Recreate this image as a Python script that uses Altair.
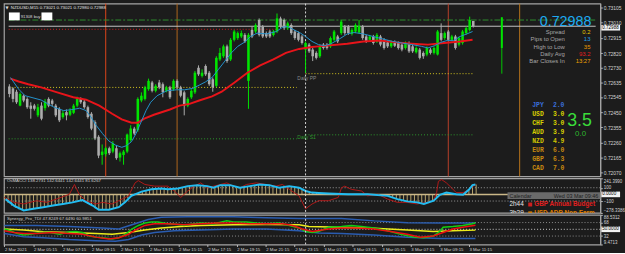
import altair as alt
import pandas as pd

# ---------------- data ----------------
bars = list(range(131))
open_ = [0.72611, 0.72599, 0.72578, 0.72491, 0.72553, 0.72533, 0.72491, 0.72491, 0.72430, 0.72491,
         0.72475, 0.72533, 0.72523, 0.72491, 0.72471, 0.72419, 0.72450, 0.72434, 0.72446, 0.72491,
         0.72533, 0.72516, 0.72481, 0.72440, 0.72388, 0.72296, 0.72182, 0.72187, 0.72224, 0.72203,
         0.72224, 0.72166, 0.72182, 0.72203, 0.72275, 0.72347, 0.72337, 0.72523, 0.72533, 0.72594,
         0.72636, 0.72584, 0.72636, 0.72625, 0.72584, 0.72605, 0.72594, 0.72646, 0.72605, 0.72574,
         0.72491, 0.72543, 0.72574, 0.72728, 0.72677, 0.72739, 0.72697, 0.72656, 0.72615, 0.72780,
         0.72800, 0.72862, 0.72780, 0.72903, 0.72914, 0.72924, 0.72934, 0.72646, 0.72965, 0.72955,
         0.73027, 0.72986, 0.72945, 0.72955, 0.72934, 0.72955, 0.73037, 0.73027, 0.72976, 0.72996,
         0.72955, 0.72945, 0.72924, 0.72842, 0.72873, 0.72842, 0.72821, 0.72800, 0.72873, 0.72873,
         0.72862, 0.72903, 0.72924, 0.72945, 0.72986, 0.72986, 0.72940, 0.72955, 0.72949, 0.72986,
         0.72924, 0.72903, 0.72924, 0.72893, 0.72924, 0.72903, 0.72887, 0.72862, 0.72887, 0.72883,
         0.72873, 0.72852, 0.72883, 0.72862, 0.72825, 0.72842, 0.72821, 0.72811, 0.72842, 0.72821,
         0.72811, 0.72945, 0.72914, 0.72955, 0.72903, 0.72924, 0.72873, 0.72883, 0.72945, 0.72965,
         0.73021]
high_ = [0.72625, 0.72605, 0.72590, 0.72574, 0.72561, 0.72543, 0.72512, 0.72502, 0.72502, 0.72512,
         0.72533, 0.72543, 0.72533, 0.72502, 0.72481, 0.72460, 0.72467, 0.72475, 0.72502, 0.72547,
         0.72543, 0.72528, 0.72491, 0.72450, 0.72399, 0.72306, 0.72248, 0.72234, 0.72234, 0.72269,
         0.72244, 0.72203, 0.72213, 0.72316, 0.72368, 0.72358, 0.72543, 0.72574, 0.72615, 0.72660,
         0.72646, 0.72625, 0.72652, 0.72636, 0.72615, 0.72615, 0.72656, 0.72656, 0.72615, 0.72584,
         0.72543, 0.72594, 0.72708, 0.72743, 0.72718, 0.72749, 0.72708, 0.72667, 0.72800, 0.72852,
         0.72873, 0.72873, 0.72914, 0.72965, 0.72955, 0.72961, 0.72945, 0.72945, 0.72986, 0.73006,
         0.73037, 0.72996, 0.72955, 0.72965, 0.72965, 0.73068, 0.73048, 0.73037, 0.73017, 0.73006,
         0.72965, 0.72955, 0.72934, 0.72893, 0.72883, 0.72852, 0.72831, 0.72873, 0.72883, 0.72883,
         0.72924, 0.72965, 0.72934, 0.73027, 0.72996, 0.72996, 0.72976, 0.73006, 0.73027, 0.72996,
         0.72934, 0.72934, 0.72934, 0.72945, 0.72934, 0.72914, 0.72899, 0.72899, 0.72899, 0.72893,
         0.72883, 0.72893, 0.72893, 0.72873, 0.72862, 0.72852, 0.72831, 0.72862, 0.72852, 0.72862,
         0.72965, 0.73006, 0.72955, 0.72965, 0.72934, 0.72934, 0.72924, 0.72965, 0.72986, 0.73048,
         0.73021]
low_ = [0.72543, 0.72512, 0.72502, 0.72487, 0.72512, 0.72471, 0.72409, 0.72460, 0.72419, 0.72399,
        0.72460, 0.72481, 0.72487, 0.72419, 0.72388, 0.72409, 0.72399, 0.72425, 0.72438, 0.72481,
        0.72502, 0.72471, 0.72409, 0.72337, 0.72275, 0.72162, 0.72121, 0.72172, 0.72182, 0.72193,
        0.72152, 0.72141, 0.72121, 0.72193, 0.72265, 0.72306, 0.72327, 0.72512, 0.72523, 0.72584,
        0.72574, 0.72574, 0.72594, 0.72543, 0.72574, 0.72533, 0.72584, 0.72594, 0.72543, 0.72430,
        0.72481, 0.72533, 0.72564, 0.72677, 0.72667, 0.72677, 0.72615, 0.72578, 0.72605, 0.72770,
        0.72790, 0.72759, 0.72770, 0.72893, 0.72903, 0.72914, 0.72883, 0.72471, 0.72914, 0.72945,
        0.72924, 0.72914, 0.72914, 0.72914, 0.72924, 0.72945, 0.72976, 0.72965, 0.72965, 0.72934,
        0.72903, 0.72893, 0.72873, 0.72697, 0.72821, 0.72770, 0.72780, 0.72790, 0.72842, 0.72842,
        0.72852, 0.72893, 0.72883, 0.72934, 0.72934, 0.72934, 0.72930, 0.72945, 0.72940, 0.72903,
        0.72883, 0.72893, 0.72873, 0.72883, 0.72862, 0.72842, 0.72852, 0.72852, 0.72858, 0.72842,
        0.72831, 0.72842, 0.72821, 0.72821, 0.72817, 0.72780, 0.72784, 0.72800, 0.72811, 0.72811,
        0.72805, 0.72893, 0.72903, 0.72893, 0.72893, 0.72842, 0.72862, 0.72873, 0.72934, 0.72955,
        0.72980]
close_ = [0.72564, 0.72533, 0.72512, 0.72564, 0.72523, 0.72481, 0.72471, 0.72471, 0.72481, 0.72409,
          0.72516, 0.72491, 0.72502, 0.72430, 0.72399, 0.72444, 0.72430, 0.72460, 0.72491, 0.72537,
          0.72512, 0.72481, 0.72419, 0.72347, 0.72285, 0.72178, 0.72203, 0.72224, 0.72193, 0.72255,
          0.72162, 0.72193, 0.72203, 0.72310, 0.72347, 0.72316, 0.72533, 0.72553, 0.72605, 0.72646,
          0.72584, 0.72615, 0.72605, 0.72574, 0.72605, 0.72543, 0.72646, 0.72605, 0.72553, 0.72491,
          0.72533, 0.72584, 0.72697, 0.72687, 0.72697, 0.72687, 0.72625, 0.72605, 0.72790, 0.72821,
          0.72862, 0.72770, 0.72903, 0.72955, 0.72945, 0.72945, 0.72893, 0.72934, 0.72924, 0.72996,
          0.72934, 0.72924, 0.72924, 0.72924, 0.72955, 0.73037, 0.72986, 0.72976, 0.73006, 0.72945,
          0.72914, 0.72903, 0.72883, 0.72883, 0.72831, 0.72800, 0.72790, 0.72862, 0.72852, 0.72852,
          0.72914, 0.72955, 0.72893, 0.73017, 0.72945, 0.72945, 0.72965, 0.72996, 0.72990, 0.72914,
          0.72893, 0.72924, 0.72883, 0.72934, 0.72873, 0.72852, 0.72862, 0.72887, 0.72866, 0.72852,
          0.72842, 0.72883, 0.72831, 0.72831, 0.72852, 0.72790, 0.72800, 0.72852, 0.72821, 0.72852,
          0.72955, 0.72903, 0.72945, 0.72903, 0.72924, 0.72852, 0.72914, 0.72955, 0.72976, 0.73027,
          0.72988]

slow_ma_bar = [0.3, 2.6, 5.3, 8.9, 13.4, 17.9, 21.5, 25.2, 28.8, 31.5, 34.2, 36.0, 37.8, 40.5, 45.0,
               47.7, 50.5, 53.2, 56.8, 59.5, 63.1, 66.7, 70.3, 74.0, 77.5, 81.2, 84.8, 86.6, 94.7,
               99.2, 103.8, 108.3, 112.8, 117.3, 121.8, 126.3, 129.8]
slow_ma = [0.72660, 0.72642, 0.72625, 0.72605, 0.72574, 0.72543, 0.72528, 0.72491, 0.72440, 0.72405,
           0.72384, 0.72384, 0.72409, 0.72434, 0.72467, 0.72491, 0.72502, 0.72523, 0.72549, 0.72578,
           0.72636, 0.72697, 0.72743, 0.72780, 0.72821, 0.72846, 0.72858, 0.72862, 0.72879, 0.72893,
           0.72899, 0.72887, 0.72879, 0.72873, 0.72883, 0.72893, 0.72903]
fast_ma_bar = [0.3, 2.6, 4.4, 8.9, 12.5, 15.2, 17.9, 19.7, 21.5, 22.9, 24.3, 26.1, 27.9, 29.7, 31.5,
               32.8, 34.2, 35.5, 36.9, 38.3, 39.6, 41.4, 44.1, 46.8, 49.1, 51.4, 53.2, 55.0, 56.8,
               58.6, 60.4, 62.2, 64.0, 65.8, 67.6, 69.4, 72.1, 74.8, 76.6, 78.0, 79.8, 81.6, 83.0,
               84.8, 86.6, 88.4, 90.2, 92.9, 94.7, 96.5, 99.2, 101.9, 104.7, 107.4, 110.1, 112.8,
               115.5, 117.3, 119.1, 120.9, 122.7, 124.5, 126.3, 128.2, 129.8]
fast_ma = [0.72667, 0.72594, 0.72553, 0.72526, 0.72481, 0.72460, 0.72467, 0.72475, 0.72460, 0.72419,
           0.72368, 0.72316, 0.72269, 0.72244, 0.72230, 0.72240, 0.72265, 0.72316, 0.72388, 0.72460,
           0.72512, 0.72553, 0.72584, 0.72590, 0.72590, 0.72599, 0.72619, 0.72640, 0.72667, 0.72718,
           0.72770, 0.72821, 0.72862, 0.72887, 0.72924, 0.72945, 0.72940, 0.72955, 0.72982, 0.72986,
           0.72965, 0.72945, 0.72924, 0.72893, 0.72873, 0.72866, 0.72879, 0.72914, 0.72940, 0.72949,
           0.72940, 0.72924, 0.72908, 0.72893, 0.72883, 0.72873, 0.72862, 0.72852, 0.72866, 0.72887,
           0.72899, 0.72899, 0.72924, 0.72940, 0.72955]

session_bars = [27, 47, 123, 143]
day_sep_bar = [83]

level_price = [0.73027, 0.72988, 0.72969, 0.72605, 0.72691, 0.72283, 0.72308]
level_from = [-0.2, -0.2, -0.2, -0.2, 83.0, -0.2, 83.0]
level_to = [164.3, 164.3, 75.0, 80.5, 130.0, 80.5, 130.0]

daily_bar = [138]
daily_open, daily_high, daily_low, daily_close = [0.72852], [0.73044], [0.72691], [0.73044]

price_ticks = [0.73105, 0.73010, 0.72915, 0.72820, 0.72730, 0.72635, 0.72545, 0.72450,
               0.72355, 0.72260, 0.72165, 0.72070]
bid = 0.72988

hist = [-80, -130, -170, -200, -225, -240, -235, -225, -215, -205,
        -195, -185, -175, -168, -160, -150, -144, -135, -125, -110,
        -95, -85, -110, -140, -168, -210, -232, -235, -232, -220,
        -205, -193, -160, -120, -60, -22, 10, 35, 50, 62,
        76, 82, 88, 90, 82, 76, 82, 88, 95, 110,
        122, 130, 136, 139, 132, 126, 115, 100, 115, 139,
        140, 140, 139, 125, 105, 105, 115, 124, 132, 142,
        149, 146, 142, 139, 125, 105, 105, 115, 124, 115,
        105, 100, 75, 51, 30, 27, 27, 20, 15, 12,
        10, 8, 5, 3, 3, 3, 3, 3, 3, 2,
        2, 0, -5, -10, -15, -22, -40, -55, -71, -85,
        -100, -105, -112, -120, -130, -144, -130, -110, -95, -50,
        -7, 15, 27, 15, 2, -3, -7, 30, 76, 139,
        149]
cci_slow_bar = [0.3, 2.6, 5.3, 8.0, 10.7, 13.4, 16.1, 18.8, 21.5, 24.3, 26.0, 28.8, 31.5, 33.2, 35.0,
                37.8, 40.5, 43.2, 45.0, 47.8, 50.5, 53.2, 55.9, 57.6, 59.5, 62.2, 64.9, 67.6, 70.3,
                73.0, 75.7, 78.5, 81.2, 83.0, 84.7, 86.6, 89.3, 94.7, 100.1, 105.6, 108.3, 111.0,
                113.7, 115.6, 118.3, 120.0, 121.8, 124.5, 126.4, 128.1, 129.0, 129.8]
cci_slow = [-71, -168, -241, -217, -193, -168, -144, -120, -85, -168, -232, -232, -193, -120, -22,
            41, 76, 90, 76, 90, 124, 139, 124, 100, 139, 139, 100, 124, 149, 139, 100, 124, 100,
            51, 27, 20, 12, 2, 2, -22, -71, -105, -120, -144, -95, -7, 27, 2, -7, 76, 139, 149]
cci_fast_bar = [0, 2.6, 5.3, 8.9, 11.6, 14.3, 17.9, 19.3, 20.6, 22.4, 25.2, 27.0, 29.7, 32.4, 34.2,
                36.0, 36.9, 38.7, 41.4, 45.0, 46.8, 48.6, 50.5, 52.3, 54.1, 55.9, 57.7, 61.3, 63.1,
                64.9, 66.7, 69.4, 72.1, 74.8, 76.6, 78.5, 81.2, 83.0, 84.8, 86.6, 89.3, 92.0, 92.9,
                93.8, 95.6, 98.4, 100.1, 102.9, 105.6, 108.3, 111.0, 113.7, 116.4, 118.2, 119.1,
                119.6, 120.5, 121.8, 123.2, 124.5, 126.4, 128.2, 129.8]
cci_fast = [-46, -120, -144, -95, -120, -71, 2, 149, 2, -95, -144, -120, -144, -71, -22, 173, 207,
            149, 124, 124, 51, -46, 51, 124, 173, 100, 124, 173, 124, 100, 149, 173, 149, 124, 149,
            76, -22, -217, -144, -95, -95, -46, 100, 124, 76, 51, -22, 2, -71, -120, -120, -144,
            -120, -95, 27, 197, 222, 173, 100, 27, 27, 76, 149]

tdi_rsi_bar = [0, 1.7, 3.5, 5.3, 7.1, 9.8, 12.5, 15.2, 17.9, 19.7, 21.5, 23.4, 25.2, 27.0, 29.7,
               31.5, 33.3, 35.1, 36.9, 38.7, 40.5, 42.3, 45.0, 47.7, 49.5, 52.3, 54.1, 57.7, 61.3,
               63.1, 66.7, 69.4, 72.1, 75.7, 78.5, 81.2, 83.0, 84.8, 86.6, 89.3, 92.9, 95.6, 98.4,
               101.9, 105.6, 109.2, 112.8, 115.5, 118.2, 120.0, 120.9, 123.6, 126.3, 129.0, 129.8]
tdi_rsi = [50.8, 46.1, 38.6, 34.8, 36.7, 41.4, 41.4, 36.7, 43.3, 44.2, 41.4, 32.0, 29.1, 27.3, 24.4,
           27.3, 36.7, 50.8, 60.3, 66.8, 69.7, 69.7, 65.0, 63.1, 60.3, 65.0, 66.8, 65.0, 72.5, 69.7,
           69.7, 66.8, 65.0, 66.8, 60.3, 53.7, 44.2, 41.4, 44.2, 55.6, 57.5, 60.3, 57.5, 53.7, 46.1,
           36.7, 29.1, 27.3, 32.0, 44.2, 55.6, 57.5, 60.3, 65.0, 67.6]
tdi_sig_bar = [0, 2.6, 5.3, 8.9, 13.4, 17.9, 21.5, 25.2, 28.8, 31.5, 34.2, 36.0, 38.7, 41.4, 45.0,
               49.5, 54.1, 58.6, 63.1, 67.6, 72.1, 76.6, 79.4, 82.1, 84.8, 89.3, 92.9, 97.4, 101.9,
               106.5, 111.0, 114.6, 118.2, 120.9, 123.6, 126.3, 129.8]
tdi_sig = [46.1, 41.4, 38.6, 38.6, 41.4, 38.6, 36.7, 29.1, 24.4, 27.3, 36.7, 48.0, 60.3, 65.0, 65.0,
           62.2, 65.0, 66.8, 66.8, 65.0, 65.0, 65.0, 60.3, 50.8, 44.2, 50.8, 53.7, 53.7, 50.8, 44.2,
           36.7, 29.1, 32.0, 41.4, 50.8, 55.6, 61.0]
tdi_base_bar = [0, 5.3, 10.7, 17.9, 25.2, 29.7, 34.2, 38.7, 43.2, 48.6, 54.1, 63.1, 72.1, 81.2, 83.9,
                92.9, 101.9, 111.0, 118.2, 123.6, 129.8]
tdi_base = [50.8, 48.0, 43.3, 41.4, 38.6, 36.7, 41.4, 48.0, 53.7, 57.5, 60.3, 62.2, 63.1, 62.2, 57.5,
            55.6, 52.7, 48.0, 44.2, 46.1, 47.8]
tdi_up_bar = [0, 8.9, 17.9, 27.0, 31.5, 36.0, 39.6, 43.2, 50.5, 63.1, 72.1, 81.2, 86.6, 92.9, 101.9,
              111.0, 120.0, 129.8]
tdi_up = [60.3, 60.3, 57.5, 53.7, 50.8, 65.0, 76.3, 81.9, 83.8, 83.8, 81.0, 79.1, 79.1, 79.1, 72.5,
          67.8, 66.8, 66.8]
tdi_dn_bar = [0, 5.3, 10.7, 17.9, 25.2, 30.6, 34.2, 37.8, 41.4, 46.8, 54.1, 63.1, 72.1, 81.2, 86.6,
              92.9, 101.9, 111.0, 120.0, 129.8]
tdi_dn = [38.6, 30.1, 27.3, 22.6, 19.7, 17.9, 22.6, 34.8, 41.4, 46.1, 48.0, 50.8, 50.8, 46.0, 40.0,
          38.6, 34.8, 29.1, 25.5, 25.5]

time_label_bars = [0, 8, 16, 24, 32, 40, 48, 56, 64, 72, 80, 88, 96, 104, 112, 120, 128]
time_labels = ["2 Mar 2021", "2 Mar 05:15", "2 Mar 07:15", "2 Mar 09:15", "2 Mar 11:15",
               "2 Mar 13:15", "2 Mar 15:15", "2 Mar 17:15", "2 Mar 19:15", "2 Mar 21:15",
               "2 Mar 23:15", "3 Mar 01:15", "3 Mar 03:15", "3 Mar 05:15", "3 Mar 07:15",
               "3 Mar 09:15", "3 Mar 11:15"]

info_names = ["Spread", "Pips to Open", "High to Low", "Daily Avg", "Bar Closes In"]
info_values = ["0.2", "13", "35", "93.2", "13:27"]
ccy_names = ["JPY", "USD", "CHF", "AUD", "NZD", "EUR", "GBP", "CAD"]
ccy_values = ["2.0", "3.0", "3.0", "3.9", "4.9", "6.0", "6.3", "7.0"]

# ---------------- style ----------------
BG = "#1c1c1c"
FRAME = "#a4a4a4"
SANS = "Liberation Sans"
MONO = "Liberation Mono"
W, H0, H1, H2 = 604, 175, 35, 30
XD = [-0.136, 164.22]
PD = [0.72048, 0.73130]
CD = [-278.3386, 241.3990]
TD = [9.4713, 88.5312]


def axis_r(values, fmt=None, expr=None, size=5.0, flush=False):
    kw = dict(orient="right", values=values, labelFontSize=size, labelFont=SANS,
              labelColor="#d4d4d4", tickColor="#bdbdbd", tickSize=2, labelPadding=1,
              domainColor=FRAME, grid=False, labelOverlap=False, labelFlush=flush,
              labelBound=False)
    if fmt:
        kw["format"] = fmt
    if expr:
        kw["labelExpr"] = expr
    return alt.Axis(**kw)


AX_MAIN = axis_r(price_ticks, fmt=".5f")
AX_CCI = axis_r([CD[1], 100, -100, CD[0]],
                expr="abs(datum.value) == 100 ? format(datum.value, 'd') : format(datum.value, '.4f')",
                size=4.5, flush=True)
AX_TDI = axis_r([TD[1], 68, 32, TD[0]],
                expr="(datum.value == 68 || datum.value == 32) ? format(datum.value, 'd') : format(datum.value, '.4f')",
                size=4.5, flush=True)
time_expr = "[" + ",".join("'%s'" % s for s in time_labels) + "][round(datum.value / 8)]"
AX_TIME = alt.Axis(orient="bottom", values=time_label_bars, labelExpr=time_expr,
                   labelAlign="left", labelBaseline="top", labelFontSize=4.4, labelFont=SANS,
                   labelColor="#d2d2d2", tickColor="#bdbdbd", tickSize=2, labelPadding=1,
                   domain=False, grid=False, labelFlush=False, labelOverlap=False,
                   labelBound=False)


def xq(f, axis=None):
    return alt.X(f, type="quantitative", scale=alt.Scale(domain=XD, nice=False, zero=False),
                 axis=axis, title=None)


def ymk(dom, ax):
    def f(field):
        return alt.Y(field, type="quantitative", scale=alt.Scale(domain=dom, nice=False, zero=False),
                     axis=ax, title=None)
    return f


ym = ymk(PD, AX_MAIN)
yc = ymk(CD, AX_CCI)
yt = ymk(TD, AX_TDI)


def txt(s, x, y, color, size, align="left", font=SANS, weight="normal", baseline="middle", clip=False):
    return alt.Chart(pd.DataFrame({"t": [s]})).mark_text(
        align=align, baseline=baseline, font=font, fontSize=size, fontWeight=weight,
        color=color, clip=clip).encode(x=alt.value(x), y=alt.value(y), text="t:N")


def box(x1, x2, y1, y2, color):
    return alt.Chart(pd.DataFrame({"a": [0]})).mark_rect(color=color).encode(
        x=alt.value(x1), x2=alt.value(x2), y=alt.value(y1), y2=alt.value(y2))


def axis_box(yfun, val, label, width_px, dy=0.0):
    d = pd.DataFrame({"v": [val], "t": [label]})
    shape = "M-1,-0.3H1V0.3H-1Z"
    b = alt.Chart(d).mark_point(shape=shape, filled=True, size=width_px * width_px,
                                color="#f2f2f2", opacity=1, yOffset=dy).encode(
        x=alt.value(605 + width_px / 2), y=yfun("v"))
    t = alt.Chart(d).mark_text(align="left", baseline="middle", font=SANS, fontSize=4.6,
                               color="#000000", dy=dy).encode(x=alt.value(606), y=yfun("v"), text="t:N")
    return [b, t]


# ---------------- main panel ----------------
cdf = pd.DataFrame({"bar": bars, "o": open_, "h": high_, "l": low_, "c": close_})
ccol = alt.condition("datum.c >= datum.o", alt.value("#00e400"), alt.value("#acacac"))

layers = []
for b, col in zip(session_bars, ["#e0461a", "#b0661c", "#b8402a", "#b8741c"]):
    layers.append(alt.Chart(pd.DataFrame({"bar": [b]})).mark_rule(color=col, strokeWidth=1)
                  .encode(x=xq("bar")))
layers.append(alt.Chart(pd.DataFrame({"bar": day_sep_bar})).mark_rule(
    color="#d8d8d8", strokeWidth=1, strokeDash=[2, 2]).encode(x=xq("bar")))

level_styles = [("#2f8f2f", [6, 2, 2, 2]), ("#c4c4c4", None), ("#d02020", [1, 2]),
                ("#d8c820", [1, 2]), ("#d8c820", [1, 2]), ("#2e9a2e", [1, 2]), ("#2e9a2e", [1, 2])]
for p, a, b, (col, dash) in zip(level_price, level_from, level_to, level_styles):
    kw = dict(color=col, strokeWidth=1)
    if dash:
        kw["strokeDash"] = dash
    layers.append(alt.Chart(pd.DataFrame({"a": [a], "b": [b], "p": [p]})).mark_rule(**kw)
                  .encode(x=xq("a"), x2="b", y=ym("p")))

layers.append(alt.Chart(pd.DataFrame({"bar": [80.7, 80.7], "p": [0.72666, 0.72292],
                                      "t": ["Daily PP", "Daily S1"]}))
              .mark_text(align="left", baseline="middle", font=SANS, fontSize=5)
              .encode(x=xq("bar"), y=ym("p"), text="t:N",
                      color=alt.Color("t:N", scale=alt.Scale(domain=["Daily PP", "Daily S1"],
                                                              range=["#8a8a8a", "#2e9a2e"]),
                                      legend=None)))

layers.append(alt.Chart(cdf).mark_rule(strokeWidth=1).encode(x=xq("bar"), y=ym("l"), y2="h", color=ccol))
layers.append(alt.Chart(cdf).mark_bar(size=2.6).encode(x=xq("bar"), y=ym("o"), y2="c", color=ccol))

ddf = pd.DataFrame({"bar": daily_bar, "o": daily_open, "h": daily_high, "l": daily_low, "c": daily_close})
layers.append(alt.Chart(ddf).mark_rule(strokeWidth=1, color="#00c800").encode(x=xq("bar"), y=ym("l"), y2="h"))
layers.append(alt.Chart(ddf).mark_bar(size=2, color="#00e400").encode(x=xq("bar"), y=ym("o"), y2="c"))

layers.append(alt.Chart(pd.DataFrame({"bar": slow_ma_bar, "v": slow_ma})).mark_line(
    color="#e8141a", strokeWidth=2).encode(x=xq("bar"), y=ym("v")))
layers.append(alt.Chart(pd.DataFrame({"bar": fast_ma_bar, "v": fast_ma})).mark_line(
    color="#2492cc", strokeWidth=1).encode(x=xq("bar"), y=ym("v")))

layers.append(txt("\u25bc", 3, 5, "#e0e0e0", 4, align="center", font="DejaVu Sans"))
layers.append(txt("NZDUSD,M15  0.73021 0.73021 0.72980 0.72988", 7, 5, "#e4e4e4", 4.4))
layers.append(box(5, 16, 9, 17, "#ffffff"))
layers.append(box(38, 49, 9, 17, "#ffffff"))
layers.append(txt("91308 buy", 17, 13.5, "#d8d8d8", 4.3))
layers.append(txt("0.72988", 595, 18.5, "#1eaaf0", 14.5, align="right"))
for k, (n, v) in enumerate(zip(info_names, info_values)):
    y = 29 + k * 7.3
    layers.append(txt(n, 568, y, "#a6a6a6", 6, align="right"))
    layers.append(txt(v, 594, y, ["#e8c800", "#1ea0e8", "#e89a00", "#e81e1e", "#f0a000"][k], 6,
                      align="right"))
ccy_cols = ["#3a6ed8", "#d8d000", "#d8d000", "#d8d000", "#d0c400", "#c88a10", "#c88a10", "#c88a10"]
for k, (n, v) in enumerate(zip(ccy_names, ccy_values)):
    y = 103 + k * 9.1
    layers.append(txt(n, 535, y, ccy_cols[k], 6.5, font=MONO, weight="bold"))
    layers.append(txt(v, 556, y, ccy_cols[k], 6.5, font=MONO, weight="bold"))
layers.append(txt("3.5", 583, 119, "#3adc3a", 18, align="center"))
layers.append(txt("0.0", 584, 132.5, "#2eb82e", 8, align="center"))
layers += axis_box(ym, bid, "0.72988", 19, dy=1.5)

main = alt.layer(*layers).properties(width=W, height=H0)

# ---------------- OsMA / CCI panel ----------------
hdf = pd.DataFrame({"bar": bars, "v": hist, "base": [0] * len(bars)})
p1 = [
    alt.Chart(pd.DataFrame({"v": [100, -100]})).mark_rule(color="#9c9c9c", strokeDash=[1, 2])
    .encode(y=yc("v")),
    alt.Chart(hdf).mark_rule(color="#b8a670", strokeWidth=1).encode(x=xq("bar"), y=yc("v"), y2="base"),
    alt.Chart(pd.DataFrame({"v": [0]})).mark_rule(color="#cbb888", strokeWidth=1.5).encode(y=yc("v")),
    alt.Chart(pd.DataFrame({"bar": cci_fast_bar, "v": cci_fast})).mark_line(
        color="#b01818", strokeWidth=1).encode(x=xq("bar"), y=yc("v")),
    alt.Chart(pd.DataFrame({"bar": cci_slow_bar, "v": cci_slow})).mark_line(
        color="#22bdf2", strokeWidth=2).encode(x=xq("bar"), y=yc("v")),
    alt.Chart(pd.DataFrame({"bar": day_sep_bar})).mark_rule(
        color="#d8d8d8", strokeWidth=1, strokeDash=[2, 2]).encode(x=xq("bar")),
    txt("OsMACCI 138.2731 142.6441 142.6441 81.6267", 3, 3, "#cfcfcf", 4.4),
    box(510, 604, 14, 21, "#6a6a6a"),
    txt("Calendar", 512, 17.5, "#202020", 5.5),
    txt("Wed 03 Mar 09:46", 602, 17.5, "#202020", 5.5, align="right"),
    txt("2h44", 512, 26.5, "#e6e6e6", 6.5),
    box(531, 535, 24.5, 28.5, "#d02020"),
    txt("GBP Annual Budget", 537, 26.5, "#e02020", 6.5, weight="bold"),
    txt("3h29", 512, 35.5, "#e6e6e6", 6.5, clip=True),
    box(531, 535, 33.5, 35, "#e08000"),
    txt("USD ADP Non-Farm", 537, 35.5, "#e08000", 6.5, weight="bold", clip=True),
]
p1 += axis_box(yc, 0, "0.0000", 19)
panel1 = alt.layer(*p1).properties(width=W, height=H1)

# ---------------- Synergy TDI panel ----------------
p2 = [
    alt.Chart(pd.DataFrame({"v": [68, 32]})).mark_rule(color="#8c8c8c", strokeDash=[1, 2])
    .encode(y=yt("v")),
    alt.Chart(pd.DataFrame({"v": [50]})).mark_rule(color="#d0d0d0", strokeDash=[1, 2])
    .encode(y=yt("v")),
    alt.Chart(pd.DataFrame({"bar": tdi_up_bar, "v": tdi_up})).mark_line(
        color="#2a5cb0", strokeWidth=1.5).encode(x=xq("bar", AX_TIME), y=yt("v")),
    alt.Chart(pd.DataFrame({"bar": tdi_dn_bar, "v": tdi_dn})).mark_line(
        color="#2a5cb0", strokeWidth=1.5).encode(x=xq("bar", AX_TIME), y=yt("v")),
    alt.Chart(pd.DataFrame({"bar": tdi_base_bar, "v": tdi_base})).mark_line(
        color="#ecec1c", strokeWidth=1.5).encode(x=xq("bar", AX_TIME), y=yt("v")),
    alt.Chart(pd.DataFrame({"bar": tdi_rsi_bar, "v": tdi_rsi})).mark_line(
        color="#14cc14", strokeWidth=1.5).encode(x=xq("bar", AX_TIME), y=yt("v")),
    alt.Chart(pd.DataFrame({"bar": tdi_sig_bar, "v": tdi_sig})).mark_line(
        color="#ec1010", strokeWidth=1.5).encode(x=xq("bar", AX_TIME), y=yt("v")),
    alt.Chart(pd.DataFrame({"bar": day_sep_bar})).mark_rule(
        color="#d8d8d8", strokeWidth=1, strokeDash=[2, 2]).encode(x=xq("bar", AX_TIME)),
    txt("Synergy_Pro_TDI 47.8249 67.6490 60.9851", 3, 4, "#cfcfcf", 4.4),
]
p2 += axis_box(yt, 50, "50.0000", 19)
panel2 = alt.layer(*p2).properties(width=W, height=H2)

chart = (alt.vconcat(main, panel1, panel2, spacing=2, bounds="flush")
         .resolve_scale(x="independent", y="independent", color="independent")
         .properties(background=BG, padding=0)
         .configure_view(fill=BG, stroke=FRAME, strokeWidth=1.2))

chart.save("out.html", embed_options={"renderer": "svg", "actions": False})
